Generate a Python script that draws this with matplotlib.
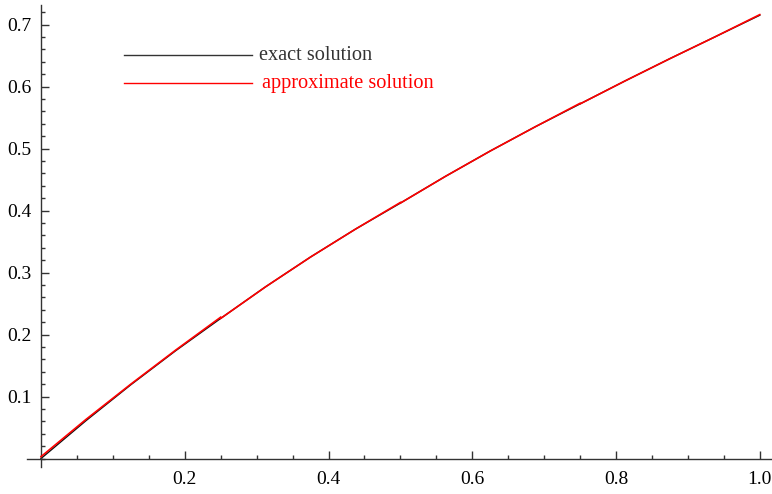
import matplotlib
matplotlib.use("Agg")
import matplotlib.pyplot as plt
from matplotlib.ticker import MultipleLocator, FixedLocator
from matplotlib.lines import Line2D

plt.rcParams["font.family"] = ["Liberation Serif", "DejaVu Serif"]

# values
x = [0, 0.0625, 0.125, 0.1875, 0.25, 0.3125, 0.375, 0.4375, 0.5,
     0.5625, 0.625, 0.6875, 0.75, 0.8125, 0.875, 0.9375, 1.0]
exact = [0, 0.061, 0.119, 0.174, 0.226, 0.277, 0.325, 0.370, 0.412,
         0.455, 0.496, 0.535, 0.572, 0.609, 0.645, 0.680, 0.715]

# approximate solution, one piece per sub-interval
approx_pieces = [
    ([0, 0.0625, 0.125, 0.1875, 0.25], [0.003, 0.063, 0.120, 0.175, 0.228]),
    ([0.25, 0.3125, 0.375, 0.4375, 0.5], [0.226, 0.277, 0.325, 0.370, 0.413]),
    ([0.5, 0.5625, 0.625, 0.6875, 0.75], [0.412, 0.455, 0.496, 0.535, 0.573]),
    ([0.75, 0.8125, 0.875, 0.9375, 1.0], [0.572, 0.609, 0.645, 0.680, 0.716]),
]

W, H = 772, 494
fig = plt.figure(figsize=(W / 100, H / 100), dpi=100)
# axes box: x=0 at px 41, x=1 at px 760; y=0 at px 458.5, y=0.7 at px 24.5
x0, x1 = -0.0195, 1.017
y0, y1 = -0.0137, 0.7315
ax = fig.add_axes([27 / W, (H - 467) / H, 745 / W, 462 / H])
ax.set_xlim(x0, x1)
ax.set_ylim(y0, y1)

ax.plot(x, exact, color="#111111", lw=1.0, zorder=2)
for px, py in approx_pieces:
    ax.plot(px, py, color="#ff0000", lw=1.2, zorder=3)

for s in ("top", "right"):
    ax.spines[s].set_visible(False)
ax.spines["left"].set_position(("data", 0))
ax.spines["bottom"].set_position(("data", 0))
for s in ("left", "bottom"):
    ax.spines[s].set_color("#333333")
    ax.spines[s].set_linewidth(1.0)

ax.xaxis.set_major_locator(FixedLocator([0.2, 0.4, 0.6, 0.8, 1.0]))
ax.xaxis.set_minor_locator(MultipleLocator(0.05))
ax.yaxis.set_major_locator(FixedLocator([0.1, 0.2, 0.3, 0.4, 0.5, 0.6, 0.7]))
ax.yaxis.set_minor_locator(MultipleLocator(0.02))
ax.set_xticklabels(["0.2", "0.4", "0.6", "0.8", "1.0"])
ax.set_yticklabels(["0.1", "0.2", "0.3", "0.4", "0.5", "0.6", "0.7"])

ax.tick_params(axis="both", which="both", direction="in", color="#333333",
               labelsize=14, width=1.0)
ax.tick_params(axis="x", which="major", length=6, pad=9)
ax.tick_params(axis="x", which="minor", length=3)
ax.tick_params(axis="y", which="major", length=6, pad=7)
ax.tick_params(axis="y", which="minor", length=3)

# hand-drawn legend
def leg(ypx, color, label, tx):
    yf = (H - ypx) / H
    fig.add_artist(Line2D([124 / W, 252 / W], [yf, yf], color=color,
                          lw=1.0))
    fig.text(tx / W, yf, label, color=color, fontsize=14.6,
             va="center", ha="left")

leg(55.5, "#333333", "exact solution", 259)
leg(83.5, "#ff0000", "approximate solution", 262)

fig.savefig("out.png", dpi=100, facecolor="white")
